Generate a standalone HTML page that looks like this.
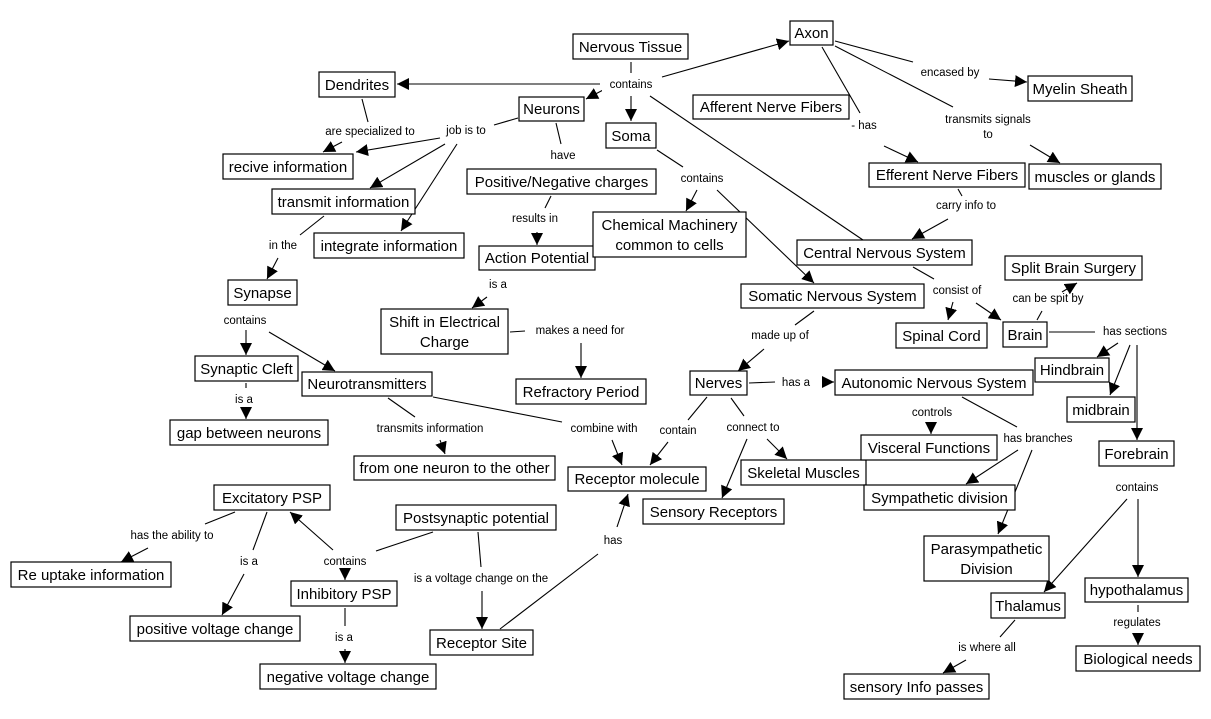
<!DOCTYPE html>
<html><head><meta charset="utf-8"><style>
html,body{margin:0;padding:0;background:#fff;}
svg{display:block;}
.b rect{fill:#fff;stroke:#000;stroke-width:1.2;}
.b text{font-family:"Liberation Sans",Arial,sans-serif;font-size:15px;fill:#000;text-anchor:middle;}
.l{font-family:"Liberation Sans",Arial,sans-serif;font-size:11.5px;fill:#000;text-anchor:middle;}
line{stroke:#000;stroke-width:1.1;}
line.a{marker-end:url(#ar);}
</style></head><body>
<svg width="1211" height="719" viewBox="0 0 1211 719" xmlns="http://www.w3.org/2000/svg">
<defs><marker id="ar" markerUnits="userSpaceOnUse" markerWidth="14" markerHeight="12" refX="12" refY="6" orient="auto"><path d="M0,0 L12,6 L0,12 z" fill="#000"/></marker></defs>

<!-- edges -->
<line x1="631" y1="62" x2="631" y2="73"/>
<line class="a" x1="600" y1="84" x2="397" y2="84"/>
<line class="a" x1="605" y1="89" x2="586" y2="99"/>
<line class="a" x1="631" y1="96" x2="631" y2="121"/>
<line class="a" x1="662" y1="77" x2="789" y2="41"/>
<line x1="650" y1="96" x2="863" y2="240"/>
<line x1="518" y1="118" x2="494" y2="125"/>
<line class="a" x1="440" y1="138" x2="356" y2="152"/>
<line class="a" x1="445" y1="144" x2="370" y2="188"/>
<line class="a" x1="457" y1="144" x2="401" y2="231"/>
<line x1="362" y1="99" x2="368" y2="122"/>
<line class="a" x1="342" y1="142" x2="323" y2="152"/>
<line x1="556" y1="123" x2="561" y2="144"/>
<line x1="551" y1="196" x2="545" y2="208"/>
<line class="a" x1="537" y1="232" x2="537" y2="245"/>
<line x1="657" y1="150" x2="683" y2="167"/>
<line class="a" x1="697" y1="190" x2="686" y2="211"/>
<line class="a" x1="717" y1="190" x2="814" y2="283"/>
<line x1="324" y1="216" x2="300" y2="235"/>
<line class="a" x1="278" y1="258" x2="267" y2="279"/>
<line class="a" x1="487" y1="297" x2="472" y2="308"/>
<line x1="510" y1="332" x2="525" y2="331"/>
<line class="a" x1="581" y1="343" x2="581" y2="378"/>
<line class="a" x1="246" y1="330" x2="246" y2="355"/>
<line class="a" x1="269" y1="332" x2="335" y2="371"/>
<line x1="246" y1="383" x2="246" y2="388"/>
<line class="a" x1="246" y1="409" x2="246" y2="419"/>
<line x1="388" y1="398" x2="415" y2="417"/>
<line class="a" x1="440" y1="440" x2="445" y2="454"/>
<line x1="433" y1="397" x2="562" y2="422"/>
<line class="a" x1="612" y1="440" x2="622" y2="465"/>
<line x1="835" y1="41" x2="913" y2="62"/>
<line class="a" x1="989" y1="79" x2="1027" y2="82"/>
<line x1="822" y1="47" x2="860" y2="113"/>
<line class="a" x1="884" y1="146" x2="918" y2="162"/>
<line x1="835" y1="46" x2="953" y2="107"/>
<line class="a" x1="1030" y1="145" x2="1060" y2="163"/>
<line x1="958" y1="189" x2="962" y2="196"/>
<line class="a" x1="948" y1="219" x2="912" y2="239"/>
<line x1="913" y1="267" x2="934" y2="279"/>
<line class="a" x1="953" y1="302" x2="948" y2="320"/>
<line class="a" x1="976" y1="303" x2="1001" y2="320"/>
<line x1="1037" y1="320" x2="1042" y2="311"/>
<line class="a" x1="1062" y1="292" x2="1077" y2="283"/>
<line x1="1049" y1="332" x2="1095" y2="332"/>
<line class="a" x1="1118" y1="343" x2="1097" y2="357"/>
<line class="a" x1="1130" y1="345" x2="1110" y2="395"/>
<line x1="1137" y1="345" x2="1137" y2="378"/>
<line class="a" x1="1137" y1="378" x2="1137" y2="440"/>
<line x1="814" y1="311" x2="795" y2="325"/>
<line class="a" x1="764" y1="349" x2="738" y2="371"/>
<line x1="749" y1="383" x2="775" y2="382"/>
<line class="a" x1="822" y1="382" x2="834" y2="382"/>
<line x1="707" y1="397" x2="688" y2="420"/>
<line class="a" x1="668" y1="442" x2="650" y2="465"/>
<line x1="731" y1="398" x2="744" y2="416"/>
<line class="a" x1="767" y1="439" x2="787" y2="459"/>
<line class="a" x1="747" y1="439" x2="722" y2="498"/>
<line class="a" x1="931" y1="423" x2="931" y2="434"/>
<line x1="962" y1="397" x2="1017" y2="427"/>
<line class="a" x1="1018" y1="450" x2="966" y2="484"/>
<line class="a" x1="1032" y1="450" x2="998" y2="534"/>
<line class="a" x1="1127" y1="499" x2="1044" y2="592"/>
<line class="a" x1="1138" y1="499" x2="1138" y2="577"/>
<line x1="1138" y1="605" x2="1138" y2="612"/>
<line class="a" x1="1138" y1="633" x2="1138" y2="645"/>
<line x1="1015" y1="620" x2="1000" y2="637"/>
<line class="a" x1="966" y1="660" x2="943" y2="673"/>
<line x1="235" y1="512" x2="205" y2="524"/>
<line class="a" x1="148" y1="548" x2="121" y2="562"/>
<line x1="267" y1="512" x2="253" y2="550"/>
<line class="a" x1="244" y1="574" x2="222" y2="615"/>
<line x1="433" y1="532" x2="376" y2="551"/>
<line class="a" x1="333" y1="550" x2="290" y2="512"/>
<line class="a" x1="345" y1="568" x2="345" y2="580"/>
<line x1="478" y1="532" x2="481" y2="567"/>
<line class="a" x1="482" y1="591" x2="482" y2="629"/>
<line x1="500" y1="629" x2="598" y2="554"/>
<line class="a" x1="617" y1="527" x2="628" y2="494"/>
<line x1="345" y1="608" x2="345" y2="626"/>
<line class="a" x1="345" y1="649" x2="345" y2="663"/>

<!-- labels -->
<g>
<rect x="602" y="76" width="58" height="16" fill="#fff"/>
</g>
<text class="l" x="631" y="88">contains</text>
<text class="l" x="466" y="134">job is to</text>
<text class="l" x="370" y="135">are specialized to</text>
<text class="l" x="563" y="159">have</text>
<text class="l" x="702" y="182">contains</text>
<text class="l" x="535" y="222">results in</text>
<text class="l" x="283" y="249">in the</text>
<text class="l" x="498" y="288">is a</text>
<text class="l" x="245" y="324">contains</text>
<text class="l" x="580" y="334">makes a need for</text>
<text class="l" x="950" y="76">encased by</text>
<text class="l" x="864" y="129">- has</text>
<text class="l" x="988" y="123">transmits signals</text>
<text class="l" x="988" y="138">to</text>
<text class="l" x="966" y="209">carry info to</text>
<text class="l" x="957" y="294">consist of</text>
<text class="l" x="1048" y="302">can be spit by</text>
<text class="l" x="1135" y="335">has sections</text>
<text class="l" x="780" y="339">made up of</text>
<text class="l" x="244" y="403">is a</text>
<text class="l" x="430" y="432">transmits information</text>
<text class="l" x="604" y="432">combine with</text>
<text class="l" x="678" y="434">contain</text>
<text class="l" x="753" y="431">connect to</text>
<text class="l" x="796" y="386">has a</text>
<text class="l" x="932" y="416">controls</text>
<text class="l" x="1038" y="442">has branches</text>
<text class="l" x="1137" y="491">contains</text>
<text class="l" x="172" y="539">has the ability to</text>
<text class="l" x="249" y="565">is a</text>
<text class="l" x="345" y="565">contains</text>
<text class="l" x="481" y="582">is a voltage change on the</text>
<text class="l" x="613" y="544">has</text>
<text class="l" x="344" y="641">is a</text>
<text class="l" x="1137" y="626">regulates</text>
<text class="l" x="987" y="651">is where all</text>

<!-- boxes -->
<g class="b">
<rect x="573" y="34" width="115" height="25"/><text x="630.5" y="52">Nervous Tissue</text>
<rect x="319" y="72" width="76" height="25"/><text x="357" y="90">Dendrites</text>
<rect x="519" y="97" width="65" height="24"/><text x="551.5" y="114">Neurons</text>
<rect x="223" y="154" width="130" height="25"/><text x="288" y="172">recive information</text>
<rect x="272" y="189" width="143" height="25"/><text x="343.5" y="207">transmit information</text>
<rect x="314" y="233" width="150" height="25"/><text x="389" y="251">integrate information</text>
<rect x="467" y="169" width="189" height="25"/><text x="561.5" y="187">Positive/Negative charges</text>
<rect x="479" y="246" width="116" height="24"/><text x="537" y="263">Action Potential</text>
<rect x="593" y="212" width="153" height="45"/><text x="669.5" y="230">Chemical Machinery</text><text x="669.5" y="250">common to cells</text>
<rect x="606" y="123" width="50" height="25"/><text x="631" y="141">Soma</text>
<rect x="228" y="280" width="69" height="25"/><text x="262.5" y="298">Synapse</text>
<rect x="381" y="309" width="127" height="45"/><text x="444.5" y="327">Shift in Electrical</text><text x="444.5" y="347">Charge</text>
<rect x="790" y="21" width="43" height="24"/><text x="811.5" y="38">Axon</text>
<rect x="1028" y="76" width="104" height="25"/><text x="1080" y="94">Myelin Sheath</text>
<rect x="693" y="95" width="156" height="24"/><text x="771" y="112">Afferent Nerve Fibers</text>
<rect x="869" y="163" width="156" height="24"/><text x="947" y="180">Efferent Nerve Fibers</text>
<rect x="1029" y="164" width="132" height="25"/><text x="1095" y="182">muscles or glands</text>
<rect x="797" y="240" width="175" height="25"/><text x="884.5" y="258">Central Nervous System</text>
<rect x="1005" y="256" width="137" height="24"/><text x="1073.5" y="273">Split Brain Surgery</text>
<rect x="741" y="284" width="183" height="24"/><text x="832.5" y="301">Somatic Nervous System</text>
<rect x="896" y="323" width="91" height="25"/><text x="941.5" y="341">Spinal Cord</text>
<rect x="1003" y="322" width="44" height="25"/><text x="1025" y="340">Brain</text>
<rect x="195" y="356" width="103" height="25"/><text x="246.5" y="374">Synaptic Cleft</text>
<rect x="302" y="372" width="130" height="24"/><text x="367" y="389">Neurotransmitters</text>
<rect x="516" y="379" width="130" height="25"/><text x="581" y="397">Refractory Period</text>
<rect x="170" y="420" width="158" height="25"/><text x="249" y="438">gap between neurons</text>
<rect x="354" y="456" width="201" height="24"/><text x="454.5" y="473">from one neuron to the other</text>
<rect x="568" y="467" width="138" height="24"/><text x="637" y="484">Receptor molecule</text>
<rect x="214" y="485" width="116" height="25"/><text x="272" y="503">Excitatory  PSP</text>
<rect x="396" y="505" width="160" height="25"/><text x="476" y="523">Postsynaptic potential</text>
<rect x="11" y="562" width="160" height="25"/><text x="91" y="580">Re uptake information</text>
<rect x="291" y="581" width="106" height="25"/><text x="344" y="599">Inhibitory PSP</text>
<rect x="130" y="616" width="170" height="25"/><text x="215" y="634">positive voltage change</text>
<rect x="430" y="630" width="103" height="25"/><text x="481.5" y="648">Receptor Site</text>
<rect x="260" y="664" width="176" height="25"/><text x="348" y="682">negative voltage change</text>
<rect x="690" y="371" width="57" height="24"/><text x="718.5" y="388">Nerves</text>
<rect x="835" y="370" width="198" height="25"/><text x="934" y="388">Autonomic Nervous System</text>
<rect x="1035" y="358" width="74" height="24"/><text x="1072" y="375">Hindbrain</text>
<rect x="1067" y="397" width="68" height="25"/><text x="1101" y="415">midbrain</text>
<rect x="741" y="460" width="125" height="25"/><text x="803.5" y="478">Skeletal Muscles</text>
<rect x="861" y="435" width="136" height="25"/><text x="929" y="453">Visceral Functions</text>
<rect x="1099" y="441" width="75" height="25"/><text x="1136.5" y="459">Forebrain</text>
<rect x="864" y="485" width="151" height="25"/><text x="939.5" y="503">Sympathetic division</text>
<rect x="643" y="499" width="141" height="25"/><text x="713.5" y="517">Sensory Receptors</text>
<rect x="924" y="536" width="125" height="45"/><text x="986.5" y="554">Parasympathetic</text><text x="986.5" y="574">Division</text>
<rect x="1085" y="578" width="103" height="24"/><text x="1136.5" y="595">hypothalamus</text>
<rect x="991" y="593" width="74" height="25"/><text x="1028" y="611">Thalamus</text>
<rect x="1076" y="646" width="124" height="25"/><text x="1138" y="664">Biological needs</text>
<rect x="844" y="674" width="145" height="25"/><text x="916.5" y="692">sensory Info passes</text>
</g>
</svg>
</body></html>
